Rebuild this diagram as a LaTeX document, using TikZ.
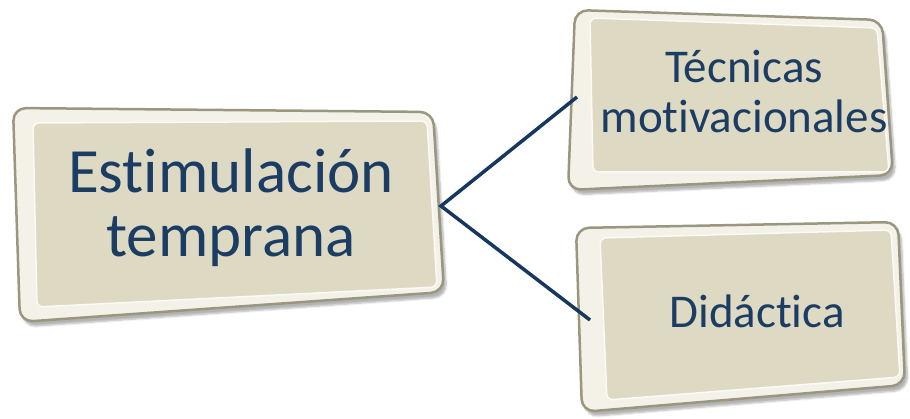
\documentclass[tikz,border=0pt]{standalone}
\usepackage{fontspec}
\setmainfont{Carlito}[Ligatures=NoCommon]
\usetikzlibrary{shadows.blur}
\definecolor{facecol}{HTML}{DDD9C3}
\definecolor{bandcol}{HTML}{F4F2E8}
\definecolor{rimcol}{HTML}{9A9680}
\definecolor{edgecol}{HTML}{FBFAF4}
\definecolor{txtcol}{HTML}{1B3C63}
\definecolor{linecol}{HTML}{17375E}
\tikzset{
  frame/.style={fill=bandcol, draw=rimcol, line width=2.5pt, rounded corners=13pt,
    blur shadow={shadow xshift=3pt, shadow yshift=-5pt, shadow blur steps=6, shadow opacity=30}},
  face/.style={fill=facecol, draw=edgecol, line width=1.5pt, rounded corners=6pt},
  lbl/.style={text=txtcol, align=center, inner sep=0pt},
  conn/.style={draw=linecol, line width=3.5pt}
}
\begin{document}
\begin{tikzpicture}[x=1pt,y=-1pt]
\useasboundingbox (0,0) rectangle (910,419);
% left box
\path[frame] (13,108) -- (433,112) -- (444,292) -- (20,322) -- cycle;
\path[face] (33,123) -- (427,121) -- (437,287) -- (37,307) -- cycle;
% top right box
\path[frame] (575,10) -- (882,20) -- (893,175) -- (568,190) -- cycle;
\path[face] (590,18) -- (877,28) -- (889,172) -- (593,172) -- cycle;
% bottom right box
\path[frame] (576,228) -- (898,222) -- (905,385) -- (582,412) -- cycle;
\path[face] (600,238) -- (891,230) -- (900,377) -- (607,400) -- cycle;
% labels (base anchor = baseline of the last line)
\node[lbl, font=\fontsize{63}{64}\selectfont, anchor=base] (est) at (231,257) {Estimulación\\temprana};
\node[lbl, font=\fontsize{47}{50}\selectfont, anchor=base] (tec) at (744,133) {Técnicas\\motivacionales};
\node[lbl, font=\fontsize{47}{50}\selectfont, anchor=base] (did) at (757,328) {Didáctica};
% connectors
\coordinate (hub) at (441,206);
\coordinate (tecin) at (577,97);
\coordinate (didin) at (590,320);
\draw[conn] (tecin) -- (hub) -- (didin);
\end{tikzpicture}
\end{document}
